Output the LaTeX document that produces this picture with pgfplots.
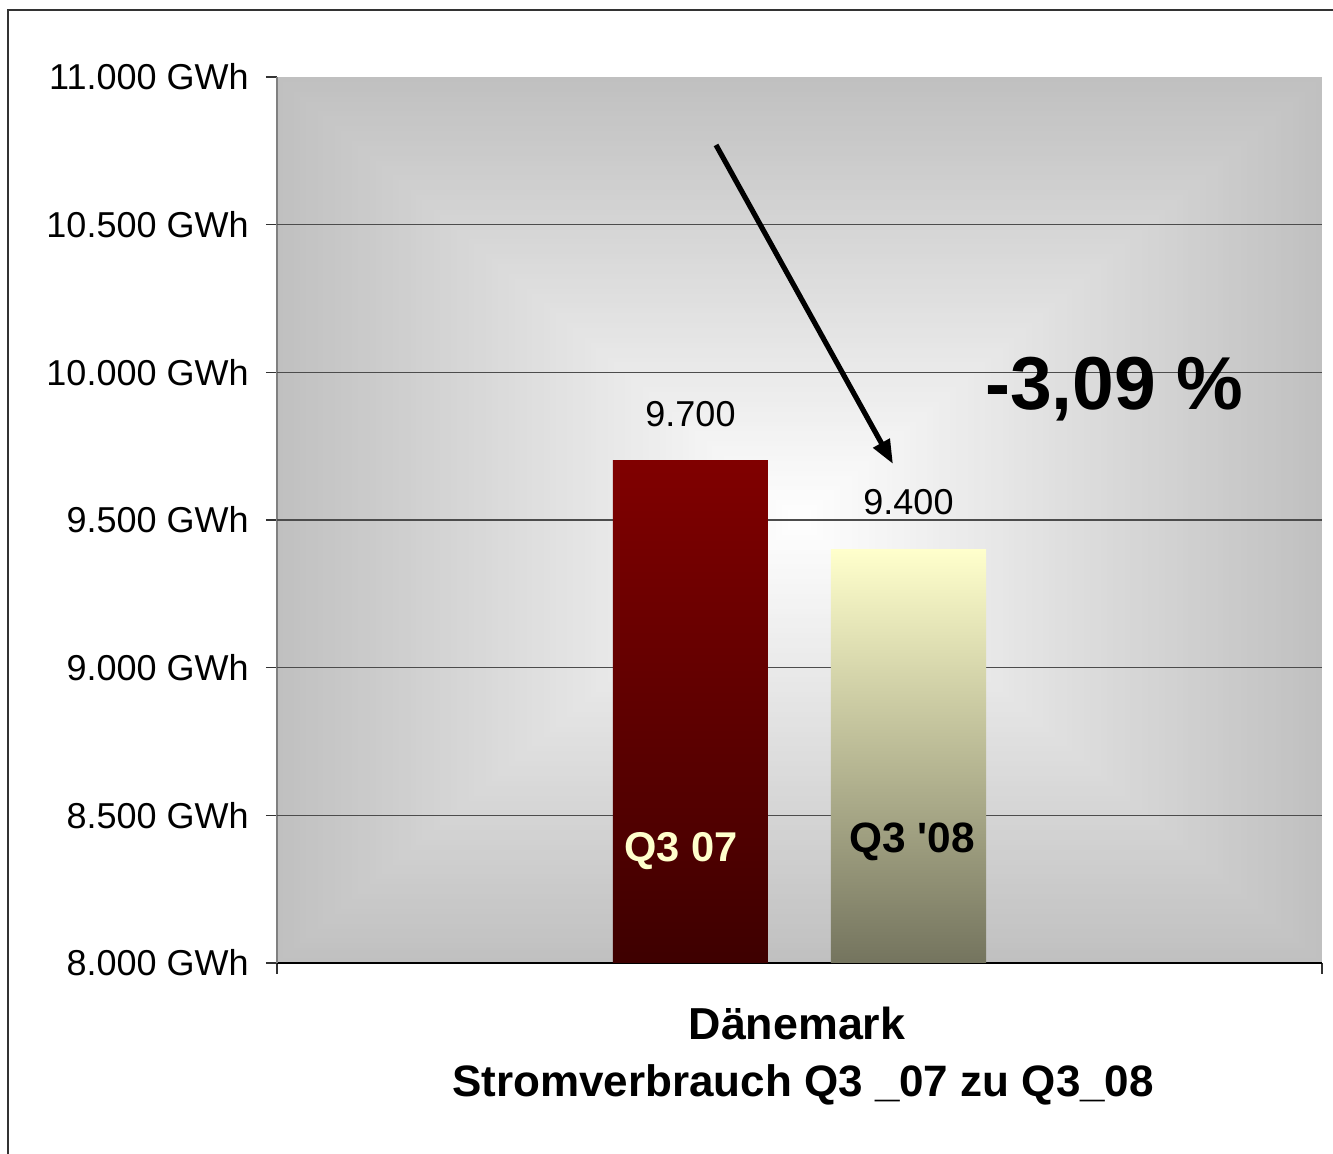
\documentclass[border=0pt]{standalone}
\usepackage{pgfplots}
\pgfplotsset{compat=1.18}
\usepackage{fontspec}
\setmainfont{Liberation Sans}
\usetikzlibrary{arrows.meta}

\definecolor{bggray}{RGB}{192,192,192}
\definecolor{redtop}{RGB}{128,0,0}
\definecolor{redbot}{RGB}{62,0,0}
\definecolor{yeltop}{RGB}{255,255,204}
\definecolor{yelbot}{RGB}{116,116,94}
\definecolor{labelyel}{RGB}{255,255,204}

\begin{document}
\begin{tikzpicture}
\useasboundingbox (0pt,0pt) rectangle (666.5pt,577pt);

% outer frame
\draw[line width=1pt, black!80] (4pt,0pt) -- (4pt,572pt) -- (666.5pt,572pt);

% plot area: rectangular gradient, grey at the edges, white in the middle
\foreach \i in {0,...,90}{
  \pgfmathsetmacro\t{\i/90}
  \pgfmathsetmacro\p{100*\t}
  \pgfmathsetmacro\s{1-\t}
  \fill[white!\p!bggray]
    ({(399.75-261.25*\s)*1pt},{(317-221.5*\s)*1pt}) rectangle
    ({(399.75+261.25*\s)*1pt},{(317+221.5*\s)*1pt});
}

\begin{axis}[
  at={(138.5pt,95.5pt)}, anchor=south west,
  scale only axis, width=522.5pt, height=443pt,
  xmin=-0.5, xmax=0.5, ymin=8000, ymax=11000,
  ybar=31.5pt, bar width=77.5pt,
  axis x line*=bottom, axis y line*=left,
  x axis line style={black, line width=0.8pt},
  y axis line style={gray, line width=0.8pt},
  xtick={-0.5,0.5}, xticklabels={},
  xtick align=outside, ytick align=outside,
  major tick length=5.5pt,
  x tick style={black!80, line width=0.7pt},
  y tick style={black!80, line width=0.7pt},
  ytick={8000,8500,...,11000},
  scaled y ticks=false,
  /pgf/number format/.cd, fixed, precision=0, 1000 sep={.}, assume math mode=true,
  /pgfplots/.cd,
  yticklabel={\pgfmathprintnumber{\tick}~GWh},
  yticklabel style={font=\fontsize{18}{21}\selectfont, inner sep=0pt, xshift=-8.5pt},
  extra y ticks={8500,9000,9500,10000,10500},
  extra y tick labels={},
  extra y tick style={grid=major, major tick length=0pt},
  major grid style={black!70, line width=0.6pt},
  nodes near coords,
  nodes near coords style={font=\fontsize{18}{21}\selectfont, black,
    anchor=south, inner sep=0pt, yshift=17pt},
]
\addplot[draw=none, top color=redtop, bottom color=redbot] coordinates {(0,9700)};
\addplot[draw=none, top color=yeltop, bottom color=yelbot] coordinates {(0,9400)};
\end{axis}

% labels inside the bars
\node[anchor=base, font=\bfseries\fontsize{20.8}{24}\selectfont, text=labelyel] at (340.5pt,146pt) {Q3 07};
\node[anchor=base, font=\bfseries\fontsize{21.2}{24}\selectfont, text=black] at (456pt,150.5pt) {Q3 \textquotesingle08};

% change annotation
\draw[line width=2.6pt, -{Triangle[length=12pt,width=9pt]}] (358pt,504.5pt) -- (446.5pt,345pt);
\node[anchor=base, font=\bfseries\fontsize{37.5}{42}\selectfont] at (557.25pt,372pt) {-3,09 \%};

% category caption
\node[anchor=base, font=\bfseries\fontsize{22.4}{26}\selectfont] at (398.5pt,57pt) {Dänemark};
\node[anchor=base, font=\bfseries\fontsize{22}{26}\selectfont] at (401.5pt,28.5pt) {Stromverbrauch Q3 \_07 zu Q3\_08};
\end{tikzpicture}
\end{document}
